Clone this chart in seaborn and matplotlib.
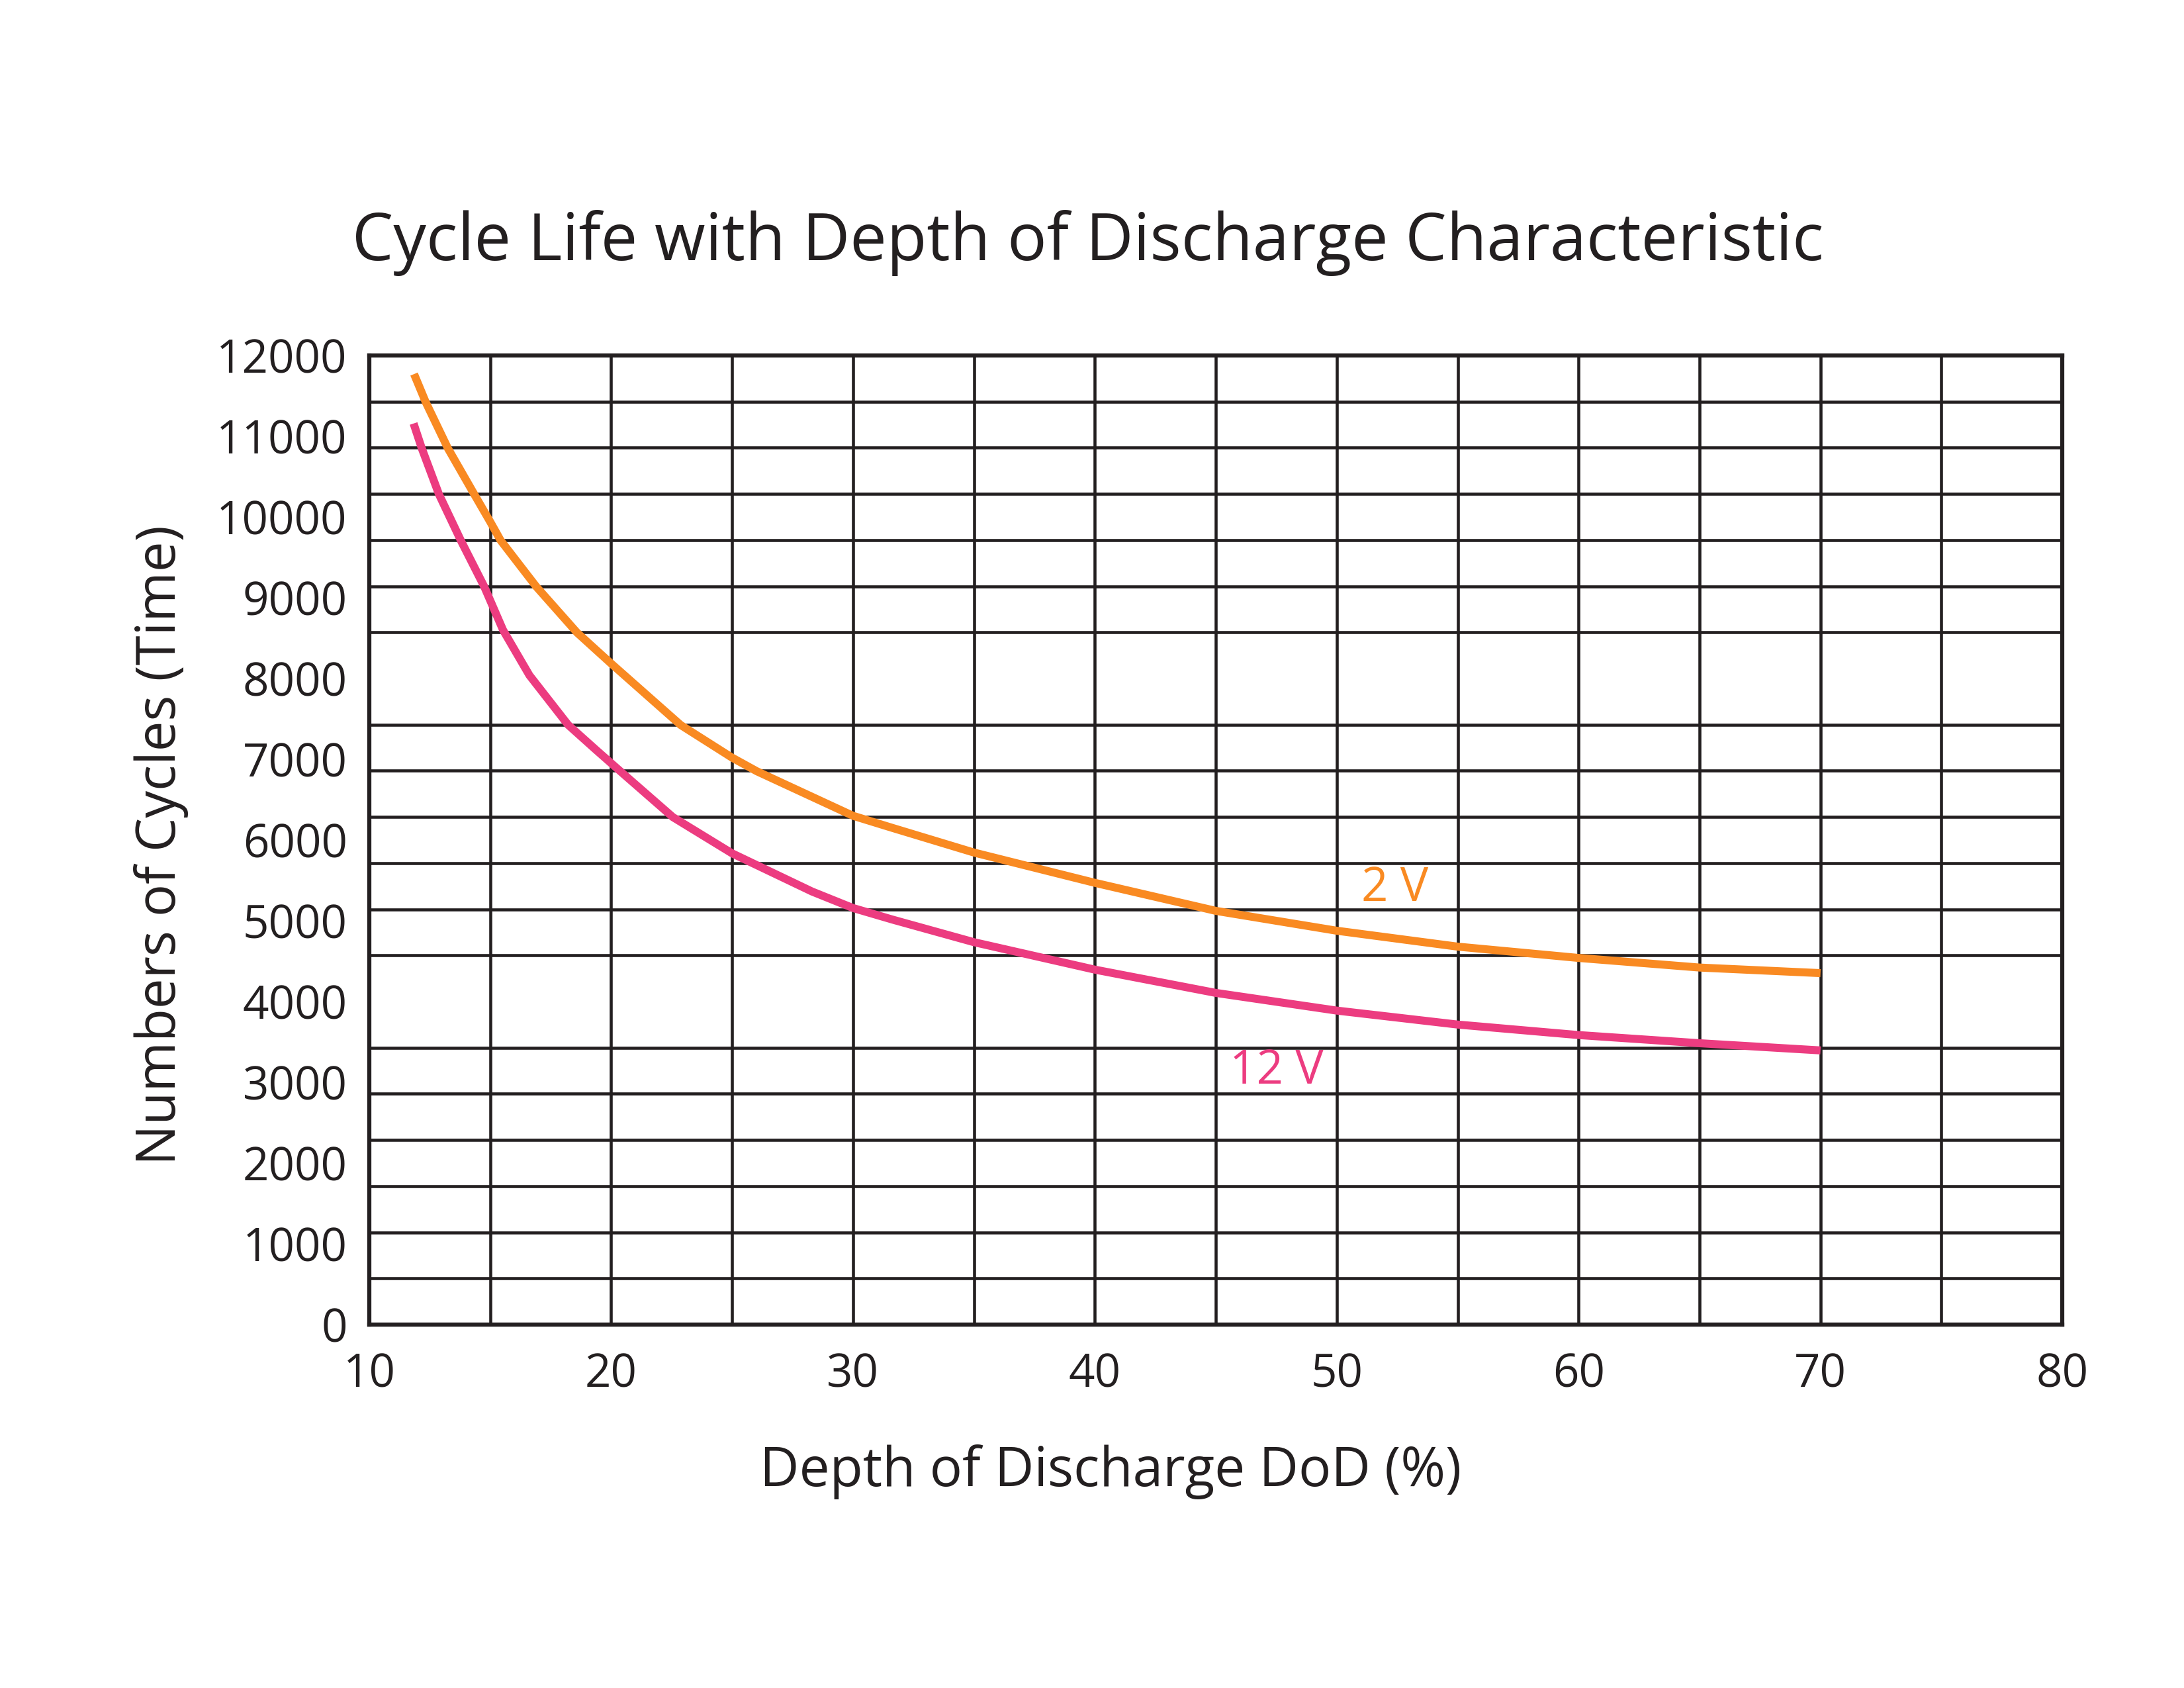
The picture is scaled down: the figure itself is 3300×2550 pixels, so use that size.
import numpy as np
import pandas as pd
import matplotlib
matplotlib.use("Agg")
import matplotlib.pyplot as plt
import seaborn as sns
from matplotlib.ticker import FixedLocator

sns.set_theme(style="white")
plt.rcParams["font.family"] = ["Open Sans", "DejaVu Sans"]

INK = "#231f20"
ORANGE = "#f98a22"
PINK = "#ec3c80"

# values
dod_2v = [11.85, 12.33, 13.25, 14.34, 15, 15.43, 16.9, 18.59, 20, 22.87, 25, 26.02,
          30, 31.63, 35, 40, 45, 50, 55, 60, 65, 70]
cycles_2v = [11770, 11424, 10850, 10281, 9940, 9710, 9139, 8568, 8185, 7425, 7020, 6852,
             6300, 6150, 5845, 5470, 5123, 4877, 4680, 4540, 4421, 4352]

dod_12v = [11.83, 12.17, 12.88, 13.8, 14.75, 15.53, 16.62, 18.22, 19.36, 20.27, 22.55, 25,
           28.3, 30, 31.63, 35, 40, 45, 50, 55, 60, 65, 70]
cycles_12v = [11158, 10850, 10281, 9700, 9139, 8600, 8040, 7426, 7120, 6880, 6284, 5835,
              5363, 5158, 5015, 4735, 4395, 4107, 3888, 3715, 3585, 3484, 3395]

x_ticks = [10, 20, 30, 40, 50, 60, 70, 80]
y_ticks = [0, 1000, 2000, 3000, 4000, 5000, 6000, 7000, 8000, 9000, 10000, 11000, 12000]
y_tick_labels = [str(v) for v in y_ticks]

series_labels = ["2 V", "12 V"]
label_pos = [(52.4, 5400), (47.5, 3140)]


def build_frame():
    df_2v = pd.DataFrame({"dod": dod_2v, "cycles": cycles_2v, "battery": "2 V"})
    df_12v = pd.DataFrame({"dod": dod_12v, "cycles": cycles_12v, "battery": "12 V"})
    return pd.concat([df_2v, df_12v], ignore_index=True)


def main():
    df = build_frame()

    fig = plt.figure(figsize=(11, 8.5), dpi=300)
    ax = fig.add_axes([0.1691, 0.2153, 0.7752, 0.5741])

    sns.lineplot(
        data=df,
        x="dod",
        y="cycles",
        hue="battery",
        palette={"2 V": ORANGE, "12 V": PINK},
        linewidth=2.9,
        sort=False,
        estimator=None,
        legend=False,
        ax=ax,
    )
    for line in ax.get_lines():
        line.set_solid_capstyle("butt")
        line.set_solid_joinstyle("round")
        line.set_zorder(5)

    ax.set_xlim(10, 80)
    ax.set_ylim(0, 12000)

    ax.xaxis.set_major_locator(FixedLocator(x_ticks))
    ax.xaxis.set_minor_locator(FixedLocator([15, 25, 35, 45, 55, 65, 75]))
    ax.yaxis.set_major_locator(FixedLocator(y_ticks))
    ax.set_yticklabels(y_tick_labels)
    # the horizontal rules split the axis into 21 bands, not aligned with the labels
    ax.yaxis.set_minor_locator(FixedLocator(np.linspace(0, 12000, 22)))

    ax.grid(False)
    ax.grid(True, axis="x", which="both", color=INK, linewidth=1.1)
    ax.grid(True, axis="y", which="minor", color=INK, linewidth=1.1)
    ax.set_axisbelow(True)

    ax.tick_params(axis="both", which="both", length=0, labelsize=16.6, colors=INK)
    ax.tick_params(axis="y", pad=8)
    ax.tick_params(axis="x", pad=10)

    for spine in ax.spines.values():
        spine.set_color(INK)
        spine.set_linewidth(1.5)
        spine.set_visible(True)

    ax.set_xlabel("Depth of Discharge DoD (%)", fontsize=19.7, color=INK)
    ax.xaxis.label.set_verticalalignment("baseline")
    ax.xaxis.set_label_coords(0.438, -0.1667)

    ax.set_ylabel("Numbers of Cycles (Time)", fontsize=19.6, color=INK)
    ax.yaxis.label.set_verticalalignment("center")
    ax.yaxis.set_label_coords(-0.1228, 0.4945)

    for text, (x, y), color in zip(series_labels, label_pos, [ORANGE, PINK]):
        ax.text(x, y, text, color=color, fontsize=17, ha="center", va="center", zorder=6)

    fig.text(
        0.498,
        0.8459,
        "Cycle Life with Depth of Discharge Characteristic",
        ha="center",
        va="baseline",
        fontsize=23.75,
        color=INK,
    )

    fig.savefig("out.png", dpi=300, facecolor="white")
    plt.close(fig)


if __name__ == "__main__":
    main()
